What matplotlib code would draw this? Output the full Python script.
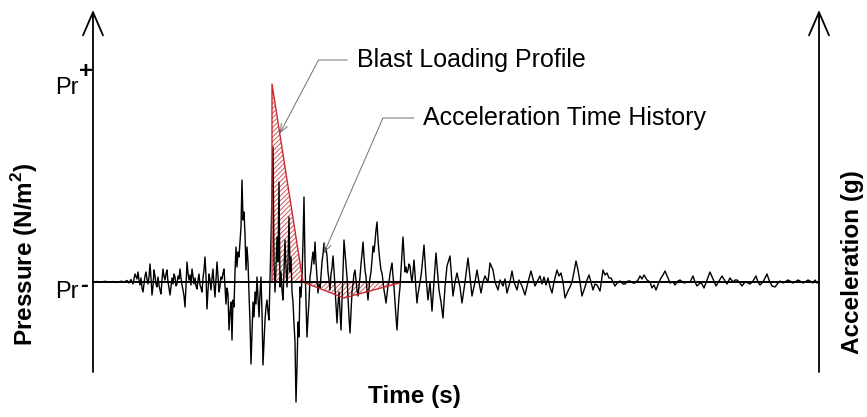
import numpy as np
import matplotlib
matplotlib.use("Agg")
import matplotlib.pyplot as plt

# acceleration record, time in ms, amplitude in arbitrary units
quiet_t = [0, 4, 8, 12, 16, 20, 24, 28, 31, 34, 36, 38, 40, 42, 44]
quiet_a = [0, 0.5, 0, 0.7, -0.3, 0.5, -0.5, 0.8, 0, 1.5, -1, 2.5, -2, 8, 3]

build_t = list(range(45, 143))
build_a = [10, 2, -3, 4, -6, -10, -2, 6, 10, 3, -2, 5, 18, 4, -13, -4, 12, 6, -2, -5,
           5, -3, -8, -12, 2, 13, 6, 2, 8, 12, 0, -6, -13, -5, 4, -2, 8, 5, -4, -2,
           6, 3, 13, 4, -3, -8, -14, -25, -4, 20, 9, 2, 7, -3, 13, 6, -2, 4, -4, -7,
           2, 8, -3, -6, -10, 4, 12, 25, 6, -27, -8, 8, 2, -8, 4, 13, -3, -15, 2, 20,
           6, -10, -4, 5, 3, 9, 13, -5, -22, -6, -12, -48, -30, -20, -58, -18, -25, 10]

strong_t = list(range(143, 219))
strong_a = [35, 15, 30, 25, 40, 55, 102, 62, 70, 48, 12, 35, 20, -12, -40, -82, -50, -20, -35, -10,
            -22, 5, -15, -35, -12, 5, -30, -83, -60, -38, -25, -18, -30, -38, 0, 42, 90, 135, 20, -10,
            15, 45, 20, 100, -5, 10, -8, -18, 10, 42, 15, -5, 20, 65, 10, 25, -10, -20, -42, -60,
            -120, -85, -40, -55, -5, -15, 5, 40, 85, 20, -20, -55, -35, -20, 5, 12]

decay1_t = list(range(219, 330))
decay1_a = [22, 30, 18, 40, 20, 5, -11, -2, -6, 6,
            20, 28, 39, 30, 34, 26, 10, 2, -8, 8,
            14, 26, 12, -6, -25, -41, -22, -10, -30, -48,
            -20, 10, 42, 30, 18, 5, -15, -35, -51, -30,
            -10, -2, 8, 12, 2, -8, -14, -4, 5, 18,
            28, 40, 25, 12, 5, -8, -18, -6, 4, 10,
            22, 36, 30, 40, 52, 60, 42, 30, 20, 12,
            9, 0, -8, -14, -21, -12, -4, 0, 8, 14,
            19, 6, -5, -20, -35, -48, -30, -15, -5, 12,
            30, 45, 28, 10, 15, 9, 12, 18, 16, 6,
            0, 10, 22, 8, -8, -21, -12, -6, 0, 6, 15]

decay2_t = [331, 333, 335, 337, 339, 341, 343, 346, 348, 350, 352, 354, 357, 360, 362, 364,
            367, 369, 372, 375, 377, 379, 382, 384, 386, 388, 390, 392, 395, 397, 400, 402,
            405, 407, 410, 412, 414, 417, 419, 421, 424, 426, 429, 432, 435, 438, 440, 442, 445]
decay2_a = [37, 5, -18, 0, -29, 0, 29, -8, -20, -36, -5, 16, 26, -14, 0, 9,
            -5, -21, 0, 24, 5, -14, 0, 12, 0, -11, 0, 6, 0, 19, 12, 0,
            -8, 2, -4, 3, -11, 0, 11, 0, -8, 2, -4, -13, 0, 11, 3, -4, 2]

tail_t = [447, 449, 451, 453, 455, 457, 459, 461, 464, 466, 468, 470, 472, 475, 477, 479,
          481, 483, 485, 487, 489, 492, 494, 496, 498, 500, 502, 504, 507, 510, 512, 514,
          516, 518, 520, 522, 525, 527, 530, 532, 535, 537, 540, 542, 545, 547, 549, 551,
          554, 557, 559, 561, 563, 566, 568, 570, 572, 575, 577, 580, 582, 585, 587, 591,
          595, 597, 600, 602, 604, 607, 609, 611, 614, 617, 620, 623, 626, 629, 632, 634,
          637, 640, 642, 644, 647, 649, 652, 655, 657, 660, 663, 665, 667, 670, 672, 674,
          676, 679, 682, 685, 687, 690, 692, 695, 697, 700, 702, 705, 707, 710, 712, 715,
          717, 720, 722, 724, 726]
tail_a = [6, -2, 5, -3, 4, -5, -11, 0, 12, 6, 9, 0, -16, -9, -5, 0,
          10, 21, 12, 0, -14, -5, 2, 7, 0, -8, -2, -3, -9, 12, 7, 9,
          4, 4, 0, -4, 0, 1, -2, -2, 1, 1, -1, -1, 2, 6, 3, 7,
          2, 0, -6, -3, -8, 0, 4, 7, 11, 4, -1, 0, -3, 1, 2, -1,
          0, 0, 6, 0, -4, -1, -2, -6, 2, 10, 3, -4, 1, 6, 1, -2,
          4, 0, 2, 2, -1, -4, 0, -1, -2, 1, 6, 0, -3, 0, 4, 8,
          2, -4, -5, -1, 1, -1, 0, 2, 1, -1, 0, 2, 1, -1, 0, 2,
          1, -1, 2, -1, 0]

# idealised blast pressure profile (positive phase then negative phase)
blast_t = [179, 179, 210, 251, 310]
blast_p = [0, 198, 0, -16, 0]

acc_t = np.array(quiet_t + build_t + strong_t + decay1_t + decay2_t + tail_t)
acc_a = np.array(quiet_a + build_a + strong_a + decay1_a + decay2_a + tail_a)
t_end = 726

plt.rcParams["font.family"] = "Liberation Sans"
plt.rcParams["mathtext.fontset"] = "custom"
plt.rcParams["mathtext.rm"] = "Liberation Sans"
plt.rcParams["mathtext.bf"] = "Liberation Sans:bold"
plt.rcParams["hatch.linewidth"] = 0.7

fig = plt.figure(figsize=(8.67, 4.17), dpi=100)
ax = fig.add_axes([0, 0, 1, 1])
ax.set_xlim(-93, 774)
ax.set_ylim(-135, 282)
ax.axis("off")

# blast profile, hatched
ax.fill_between(blast_t, blast_p, 0, facecolor="none", edgecolor="#cf5a5d",
                hatch="///////", linewidth=0, zorder=1)
ax.plot(blast_t, blast_p, color="#c8282e", lw=1.0, zorder=3)

# acceleration time history
ax.plot(acc_t, acc_a, color="black", lw=1.0, zorder=2)
ax.axhline(0, xmin=93 / 867, xmax=819 / 867, color="black", lw=1.4, zorder=4)

# the two vertical axes with open arrow heads
axis_style = dict(arrowstyle="->,head_length=0.83,head_width=0.36", lw=1.3,
                  color="black", shrinkA=0, shrinkB=0, mutation_scale=20)
ax.annotate("", xy=(0, 272), xytext=(0, -90), arrowprops=axis_style)
ax.annotate("", xy=(t_end, 272), xytext=(t_end, -90), arrowprops=axis_style)

# Pr+ / Pr- marks
ax.text(-14, 188, "Pr", fontsize=17, ha="right", va="baseline")
ax.text(-7, 204, "+", fontsize=17, ha="center", va="baseline", fontweight="bold")
ax.text(-14, -16, "Pr", fontsize=17, ha="right", va="baseline")
ax.text(-9, -10, "-", fontsize=17, ha="center", va="baseline", fontweight="bold")

ax.text(-68, 28, r"Pressure (N/m$^{\mathbf{2}}$)", fontsize=17.5, fontweight="bold",
        rotation=90, ha="center", va="center")
ax.text(759, 20, "Acceleration (g)", fontsize=17.5, fontweight="bold",
        rotation=90, ha="center", va="center")
ax.text(275, -115, "Time (s)", fontsize=17.5, fontweight="bold", ha="left", va="center")

# leader labels
tip_t = blast_t[1] + 0.25 * (blast_t[2] - blast_t[1])
tip_p = 0.75 * blast_p[1]
ax.annotate("Blast Loading Profile", xy=(tip_t, tip_p), xytext=(264, 222),
            fontsize=18, ha="left", va="center",
            arrowprops=dict(arrowstyle="->,head_length=0.5,head_width=0.2", color="#707070",
                            lw=0.7, shrinkA=5, shrinkB=0, mutation_scale=12,
                            relpos=(0, 0.5), connectionstyle="angle,angleA=0,angleB=62.2,rad=0"))
ax.annotate("Acceleration Time History", xy=(231, 29), xytext=(330, 164),
            fontsize=18, ha="left", va="center",
            arrowprops=dict(arrowstyle="->,head_length=0.5,head_width=0.2", color="#707070",
                            lw=0.7, shrinkA=4.5, shrinkB=0, mutation_scale=12,
                            relpos=(0, 0.5), connectionstyle="angle,angleA=0,angleB=66.4,rad=0"))

fig.savefig("out.png", dpi=100)
